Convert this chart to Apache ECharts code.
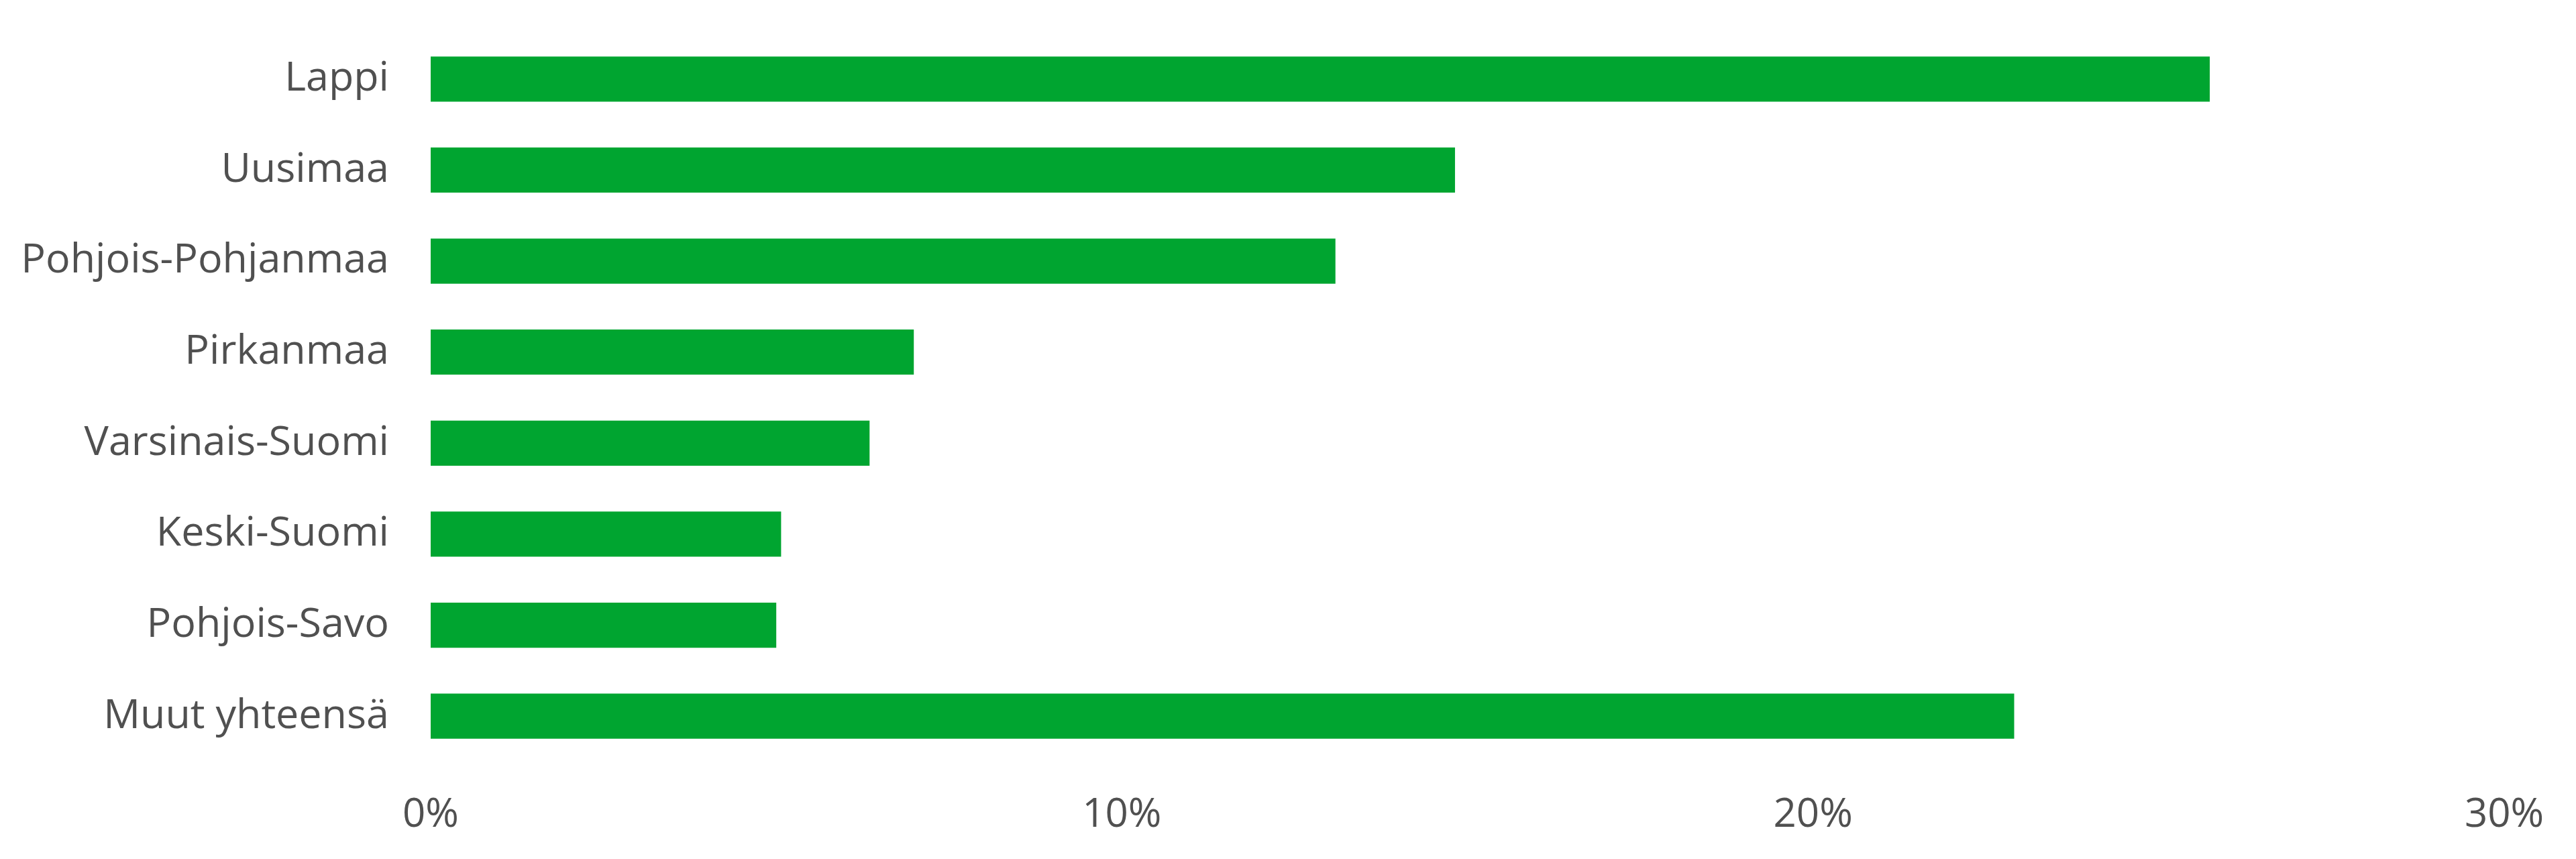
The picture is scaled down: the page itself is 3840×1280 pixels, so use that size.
<!DOCTYPE html>
<html>
<head>
<meta charset="utf-8">
<script src="https://cdn.jsdelivr.net/npm/echarts@6/dist/echarts.min.js"></script>
<style>
html,body{margin:0;padding:0;background:#fff;}
#chart{width:3840px;height:1280px;}
</style>
</head>
<body>
<div id="chart"></div>
<script>
const categories = ["Lappi", "Uusimaa", "Pohjois-Pohjanmaa", "Pirkanmaa", "Varsinais-Suomi", "Keski-Suomi", "Pohjois-Savo", "Muut yhteensä"];
const values = [25.74, 14.82, 13.09, 6.99, 6.35, 5.07, 5.00, 22.91];
const xTicks = [0, 10, 20, 30];

const FONT = "Open Sans";
const chart = echarts.init(document.getElementById('chart'), null, {renderer: 'canvas'});
chart.setOption({
  animation: false,
  backgroundColor: '#ffffff',
  grid: {left: 642, right: 107, top: 50, height: 1085, containLabel: false},
  xAxis: {
    type: 'value', min: 0, max: 30, interval: 10,
    axisLine: {show: false}, axisTick: {show: false}, splitLine: {show: false},
    axisLabel: {
      color: '#505050', fontFamily: FONT, fontSize: 60, margin: 50,
      formatter: v => xTicks.includes(v) ? v + '%' : ''
    }
  },
  yAxis: {
    type: 'category', data: categories, inverse: true,
    axisLine: {show: false}, axisTick: {show: false}, splitLine: {show: false},
    axisLabel: {color: '#505050', fontFamily: FONT, fontSize: 61, margin: 62, padding: [10, 0, 0, 0]}
  },
  series: [{
    type: 'bar', data: values, barWidth: '49.5%',
    itemStyle: {color: '#00A530'}
  }]
});
</script>
</body>
</html>
